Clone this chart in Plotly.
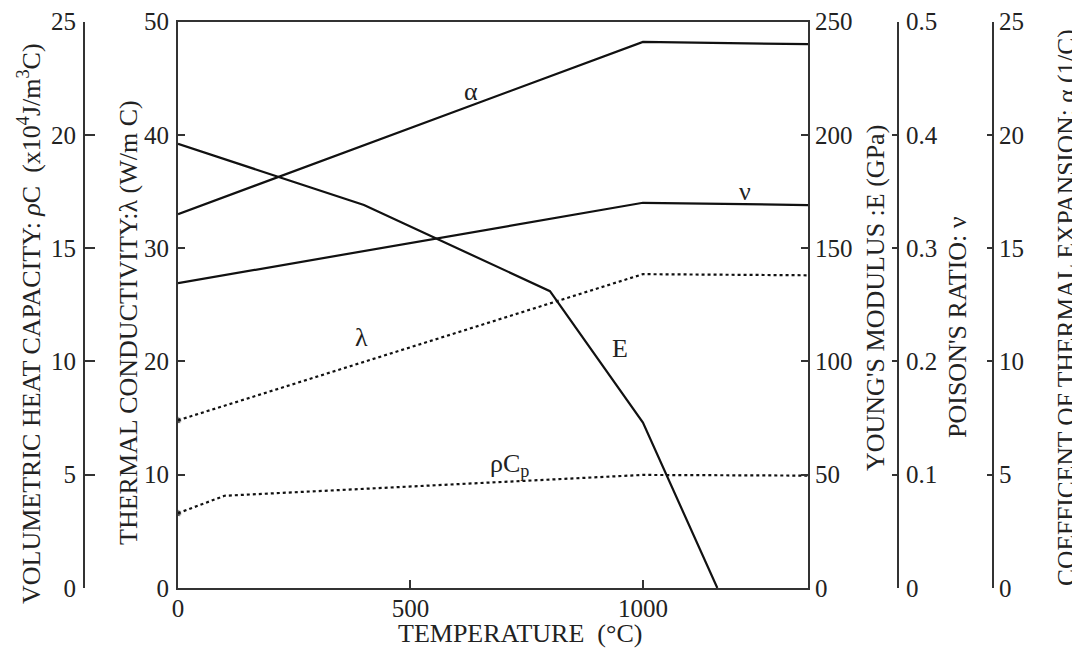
import plotly.graph_objects as go

# ---- data ----
temp_lambda = [0, 1000, 1355]
lambda_vals = [14.8, 27.7, 27.6]          # W/m C

temp_rhoc = [0, 100, 1000, 1355]
rhoc_vals = [3.3, 4.07, 4.99, 4.96]       # x10^4 J/m3 C

temp_E = [0, 400, 800, 1000, 1160]
E_vals = [196, 169, 131, 73, 0]           # GPa

temp_nu = [0, 1000, 1355]
nu_vals = [0.269, 0.340, 0.338]

temp_alpha = [0, 1000, 1355]
alpha_vals = [16.5, 24.1, 24.0]           # 1/C

x_ticks = [0, 500, 1000]
lambda_ticks = [0, 10, 20, 30, 40, 50]
E_ticks = [0, 50, 100, 150, 200, 250]
nu_ticks = [0, 0.1, 0.2, 0.3, 0.4, 0.5]
nu_ticktext = ["0", "0.1", "0.2", "0.3", "0.4", "0.5"]
alpha_ticks = [0, 5, 10, 15, 20, 25]
rhoc_ticks = [0, 5, 10, 15, 20, 25]

# the page body has an 8px margin: lay out in window pixels, then offset
OFF = 8
W, H = 1080 - OFF, 648 - OFF
FONT = "Liberation Serif"
TXT = "#222222"
AX = "#333333"
LINE = "#111111"

def px(x):
    return (x - OFF) / W

def py(y):
    return 1 - (y - OFF) / H

fig = go.Figure()

def marker_sizes(n):
    return [7] + [0] * (n - 1)

fig.add_trace(go.Scatter(x=temp_lambda, y=lambda_vals, yaxis="y", mode="lines+markers",
                         line=dict(color=LINE, width=2.2, dash="dot"),
                         marker=dict(size=marker_sizes(len(temp_lambda)), color=LINE),
                         showlegend=False, hoverinfo="skip"))
fig.add_trace(go.Scatter(x=temp_rhoc, y=rhoc_vals, yaxis="y5", mode="lines+markers",
                         line=dict(color=LINE, width=2.2, dash="dot"),
                         marker=dict(size=marker_sizes(len(temp_rhoc)), color=LINE),
                         showlegend=False, hoverinfo="skip"))
fig.add_trace(go.Scatter(x=temp_E, y=E_vals, yaxis="y2", mode="lines",
                         line=dict(color=LINE, width=2.2), showlegend=False, hoverinfo="skip"))
fig.add_trace(go.Scatter(x=temp_nu, y=nu_vals, yaxis="y3", mode="lines",
                         line=dict(color=LINE, width=2.2), showlegend=False, hoverinfo="skip"))
fig.add_trace(go.Scatter(x=temp_alpha, y=alpha_vals, yaxis="y4", mode="lines",
                         line=dict(color=LINE, width=2.2), showlegend=False, hoverinfo="skip"))

tickfont = dict(family=FONT, size=25, color=TXT)
common = dict(showgrid=False, zeroline=False, showline=True, linecolor=AX, linewidth=2,
              tickcolor=AX, tickwidth=2, tickfont=tickfont, automargin=False)

ydom = [py(588), py(21.5)]

fig.update_layout(
    width=W, height=H,
    margin=dict(l=0, r=0, t=0, b=0),
    paper_bgcolor="white", plot_bgcolor="white",
    xaxis=dict(domain=[px(178), px(808)], range=[0, 1355], tickvals=x_ticks,
               ticks="inside", ticklen=8, mirror=True, ticklabelstandoff=-3, **common),
    yaxis=dict(domain=ydom, range=[0, 50], tickvals=lambda_ticks, side="left",
               anchor="x", ticks="inside", ticklen=7, ticklabelstandoff=2, **common),
    yaxis2=dict(domain=ydom, range=[0, 250], tickvals=E_ticks, side="right",
                anchor="x", overlaying="y", ticks="inside", ticklen=7, **common),
    yaxis3=dict(domain=ydom, range=[0, 0.5], tickvals=nu_ticks, ticktext=nu_ticktext,
                side="right", anchor="free", position=px(898), overlaying="y",
                ticks="inside", ticklen=5, ticklabelstandoff=2, **common),
    yaxis4=dict(domain=ydom, range=[0, 25], tickvals=alpha_ticks, side="right",
                anchor="free", position=px(993), overlaying="y",
                ticks="inside", ticklen=5, **common),
    yaxis5=dict(domain=ydom, range=[0, 25], tickvals=rhoc_ticks, side="left",
                anchor="free", position=px(84), overlaying="y",
                ticks="inside", ticklen=10, ticklabelstandoff=2, **common),
)

NB = "\u00a0"
titles = [
    ("VOLUMETRIC HEAT CAPACITY: <i>ρ</i>C" + NB + NB + "(x10<sup>4</sup>J/m<sup>3</sup>C)", 29, 324, -90, 26),
    ("THERMAL CONDUCTIVITY:λ (W/m C)", 128, 323, -90, 26),
    ("YOUNG'S MODULUS :E (GPa)", 875, 298, -90, 26),
    ("POISON'S RATIO: ν", 957, 327, -90, 26),
    ("COEFFICENT OF THERMAL EXPANSION: α (1/C)", 1066, 308, -90, 25.5),
    ("TEMPERATURE" + NB + NB + "(°C)", 520, 633, 0, 26),
]
for text, x, y, ang, fs in titles:
    fig.add_annotation(text=text, x=px(x), y=py(y), xref="paper", yref="paper",
                       xanchor="center", yanchor="middle", textangle=ang,
                       showarrow=False, font=dict(family=FONT, size=fs, color=TXT))

lfont = dict(family=FONT, size=26, color=TXT)
labels = [
    ("α", 631, 43.8),
    ("ν", 1219, 35.0),
    ("λ", 394, 22.1),
    ("E", 950, 21.1),
    ("ρC<sub>p</sub>", 713, 10.9),
]
for text, xv, yv in labels:
    fig.add_annotation(text=text, x=xv, y=yv, xref="x", yref="y",
                       xanchor="center", yanchor="middle", showarrow=False, font=lfont)

fig.write_html("out.html")
